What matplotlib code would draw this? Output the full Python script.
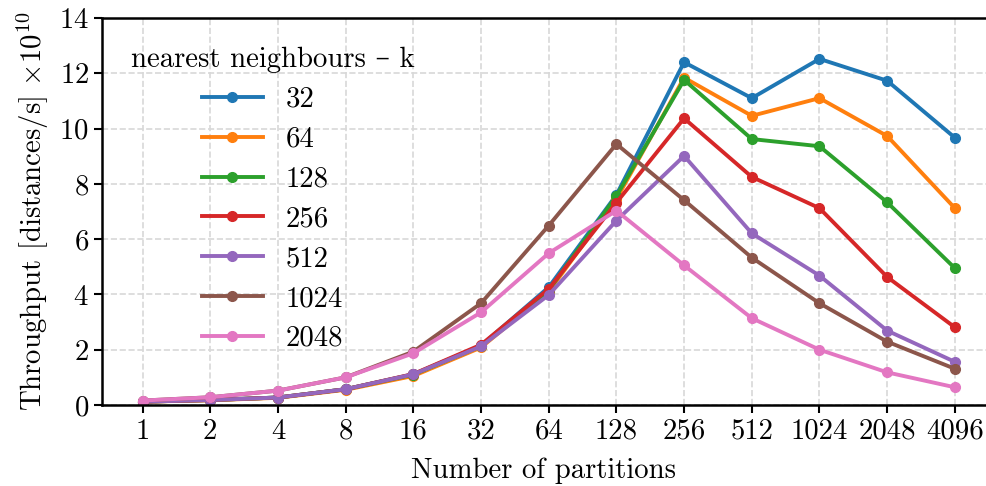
import matplotlib
matplotlib.use("Agg")
import matplotlib.pyplot as plt

plt.rcParams["font.family"] = ["cmr10", "DejaVu Serif"]
plt.rcParams["mathtext.fontset"] = "cm"
plt.rcParams["axes.formatter.use_mathtext"] = True
plt.rcParams["font.size"] = 20.7

# nombre de partitions (axe x, catégoriel)
partitions = ["1", "2", "4", "8", "16", "32", "64", "128", "256", "512", "1024", "2048", "4096"]

# débit en distances/s (x 1e10), une série par k
k_values = ["32", "64", "128", "256", "512", "1024", "2048"]
tp_32 = [0.12, 0.18, 0.27, 0.57, 1.11, 2.15, 4.26, 7.60, 12.40, 11.10, 12.52, 11.73, 9.67]
tp_64 = [0.12, 0.17, 0.26, 0.55, 1.05, 2.08, 4.10, 7.45, 11.84, 10.46, 11.10, 9.73, 7.12]
tp_128 = [0.12, 0.18, 0.27, 0.57, 1.10, 2.13, 4.15, 7.56, 11.76, 9.62, 9.36, 7.33, 4.95]
tp_256 = [0.12, 0.18, 0.27, 0.57, 1.12, 2.18, 4.20, 7.32, 10.37, 8.25, 7.12, 4.63, 2.81]
tp_512 = [0.12, 0.18, 0.27, 0.57, 1.11, 2.12, 3.98, 6.67, 9.01, 6.21, 4.68, 2.69, 1.56]
tp_1024 = [0.16, 0.28, 0.52, 1.00, 1.93, 3.68, 6.49, 9.44, 7.41, 5.33, 3.68, 2.29, 1.31]
tp_2048 = [0.16, 0.28, 0.52, 1.00, 1.87, 3.35, 5.49, 7.03, 5.05, 3.14, 2.00, 1.18, 0.64]


def plot_throughput():
    series = [tp_32, tp_64, tp_128, tp_256, tp_512, tp_1024, tp_2048]
    xs = list(range(len(partitions)))

    fig = plt.figure(figsize=(9.86, 4.86), dpi=100)
    ax = fig.add_axes([0.1034, 0.1667, 0.8966, 0.7963])

    for k, values in zip(k_values, series):
        ax.plot(xs, values, marker="o", linewidth=2.8, markersize=7, label=k)

    ax.set_xticks(xs)
    ax.set_xticklabels(partitions)
    ax.set_xlim(-0.6, 12.46)
    ax.set_ylim(0, 14)
    ax.set_yticks(range(0, 15, 2))
    ax.set_xlabel("Number of partitions", labelpad=9)
    ax.set_ylabel(r"Throughput [distances/s] $\times 10^{10}$", labelpad=6)
    ax.grid(True, linestyle="--", color="#d8d8d8", linewidth=1.2)
    ax.set_axisbelow(True)
    ax.spines["right"].set_visible(False)
    for side in ["left", "bottom", "top"]:
        ax.spines[side].set_linewidth(1.8)
    ax.tick_params(width=1.5, length=6)

    ax.legend(title="nearest neighbours – k", loc="upper left", frameon=False,
              handlelength=2.1, labelspacing=0.47, borderaxespad=0.6)

    fig.savefig("out.png", dpi=100)


if __name__ == "__main__":
    plot_throughput()
